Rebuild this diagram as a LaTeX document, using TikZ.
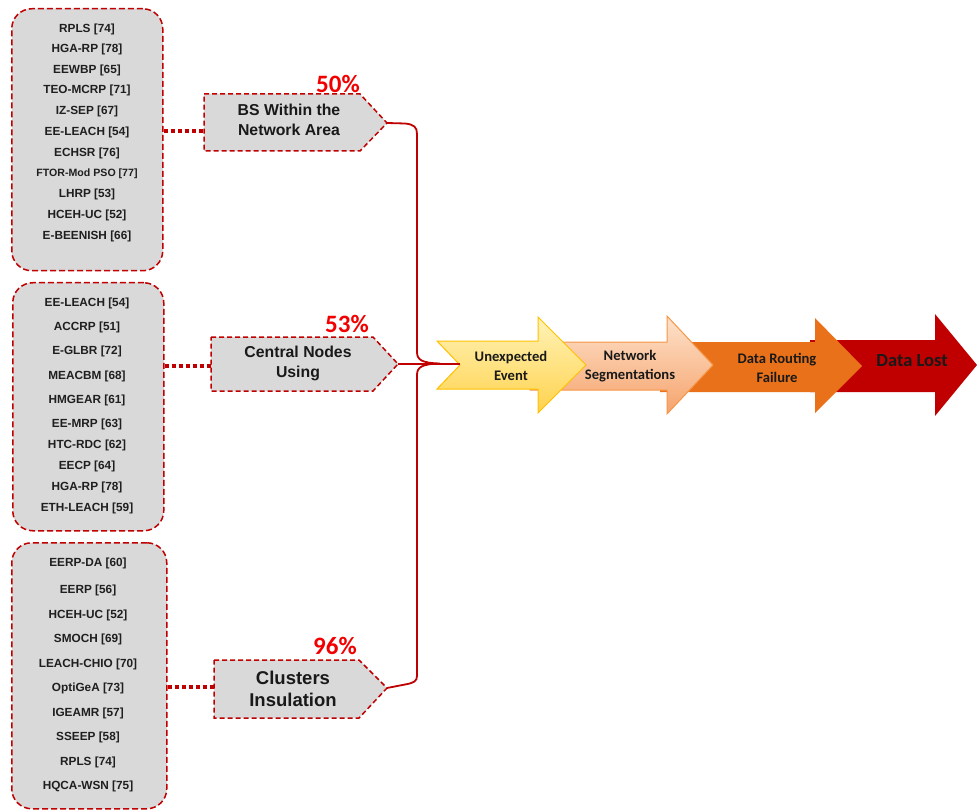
\documentclass[tikz,border=0pt]{standalone}
\usepackage{fontspec}
\setmainfont{Liberation Sans}
\newfontfamily\cbri{Carlito}
\definecolor{dred}{HTML}{C00000}
\definecolor{boxgray}{HTML}{D9D9D9}
\definecolor{pctred}{HTML}{F20000}
\definecolor{ytop}{HTML}{FFF3B8}
\definecolor{ybot}{HTML}{FFD24D}
\definecolor{yedge}{HTML}{FFC000}
\definecolor{ptop}{HTML}{FDE2CC}
\definecolor{pbot}{HTML}{F6A36B}
\definecolor{pedge}{HTML}{F79646}
\definecolor{orng}{HTML}{E97119}
\begin{document}
\begin{tikzpicture}[x=1pt,y=-1pt,
  listbox/.style={draw=dred, dash pattern=on 6pt off 3pt, line width=1.5pt,
    fill=boxgray, rounded corners=20pt},
  item/.style={font=\fontsize{11.8}{13}\selectfont\bfseries, text=black!88, inner sep=0pt},
  causebox/.style={draw=dred, dash pattern=on 5pt off 3pt, line width=1.5pt, fill=boxgray},
  causetext/.style={font=\fontsize{15.8}{20}\selectfont\bfseries, align=center, text=black!90, inner sep=0pt},
  pct/.style={font=\cbri\fontsize{25}{28}\selectfont\bfseries, text=pctred, inner sep=0pt},
  dotlink/.style={draw=dred, line width=3.5pt, dash pattern=on 4pt off 3pt},
  brace/.style={draw=dred, line width=1.8pt},
  steptext/.style={font=\cbri\fontsize{14.6}{19.5}\selectfont\bfseries, align=center, text=black!90, inner sep=0pt}
]
\useasboundingbox (0,0) rectangle (977,810);

% ---------- method lists ----------
\node[listbox, anchor=north west, minimum width=151pt, minimum height=262pt, inner sep=0pt] (L1) at (11,8) {};
\node[listbox, anchor=north west, minimum width=151pt, minimum height=248pt, inner sep=0pt] (L2) at (12,282) {};
\node[listbox, anchor=north west, minimum width=155pt, minimum height=266pt, inner sep=0pt] (L3) at (11,542) {};

\foreach \yy/\t in {29/RPLS [74], 49/HGA-RP [78], 70/EEWBP [65], 90/TEO-MCRP [71],
  111/IZ-SEP [67], 132/EE-LEACH [54], 153/ECHSR [76], 194/LHRP [53],
  215/HCEH-UC [52], 236/E-BEENISH [66]}
  \node[item] (a\yy) at (87,\yy) {\t};
\node[item, font=\fontsize{10.6}{12}\selectfont\bfseries] (a174) at (87,174) {FTOR-Mod PSO [77]};

\foreach \yy/\t in {303/EE-LEACH [54], 327/ACCRP [51], 351/E-GLBR [72], 376/MEACBM [68],
  400/HMGEAR [61], 424/EE-MRP [63], 445/HTC-RDC [62], 466/EECP [64],
  487/HGA-RP [78], 508/ETH-LEACH [59]}
  \node[item] (b\yy) at (87,\yy) {\t};

\foreach \yy/\t in {563/EERP-DA [60], 590/EERP [56], 615/HCEH-UC [52], 639/SMOCH [69],
  664/LEACH-CHIO [70], 688/OptiGeA [73], 713/IGEAMR [57], 737/SSEEP [58],
  762/RPLS [74], 786/HQCA-WSN [75]}
  \node[item] (c\yy) at (88,\yy) {\t};

% ---------- cause boxes ----------
\draw[causebox] (204,94) -- (360,94) -- (387,123) -- (360,151) -- (204,151) -- cycle;
\draw[causebox] (211,337) -- (373,337) -- (398,364) -- (373,391) -- (211,391) -- cycle;
\draw[causebox] (214,660) -- (359,660) -- (387,688) -- (359,718) -- (214,718) -- cycle;
\coordinate (t1) at (387,123);
\coordinate (t2) at (398,364);
\coordinate (t3) at (387,688);
\coordinate (w1) at (204,131);
\coordinate (w2) at (211,366);
\coordinate (w3) at (214,687);

\node[causetext] (c1) at (289,120) {BS Within the\\Network Area};
\node[causetext] (c2) at (298,363) {Central Nodes\\Using};
\node[causetext, font=\fontsize{18.5}{22}\selectfont\bfseries] (c3) at (293,689) {Clusters\\Insulation};

\node[pct] (p1) at (338,84) {50\%};
\node[pct] (p2) at (347,324) {53\%};
\node[pct] (p3) at (335,646) {96\%};

% dotted links from lists to causes
\draw[dotlink] (L1.east |- w1) -- (w1);
\draw[dotlink] (L2.east |- w2) -- (w2);
\draw[dotlink] (L3.east |- w3) -- (w3);

% ---------- consequence chain (drawn back to front) ----------
\path[fill=dred] (810,340) -- (935,340) -- (935,314) -- (977,365) -- (935,416) -- (935,392) -- (810,392) -- cycle;
\path[fill=orng] (660,342) -- (815,342) -- (815,318) -- (862,366) -- (815,413) -- (815,392) -- (660,392) -- cycle;
\path[draw=pedge, line width=1pt, top color=ptop, bottom color=pbot]
  (530,342) -- (667,342) -- (667,316) -- (713,365) -- (667,414) -- (667,390) -- (530,390) -- cycle;
\path[draw=yedge, line width=1pt, top color=ytop, bottom color=ybot]
  (437,341) -- (538,341) -- (538,317) -- (586,365) -- (538,413) -- (538,389) -- (437,389) -- (460,365) -- cycle;
\coordinate (notch) at (460,364);

\node[steptext] (s1) at (511,366) {Unexpected\\Event};
\node[steptext] (s2) at (630,366) {Network\\Segmentations};
\node[steptext] (s3) at (777,368) {Data Routing\\Failure};
\node[steptext, font=\cbri\fontsize{18.5}{20}\selectfont\bfseries] (s4) at (912,361) {Data Lost};

% ---------- brace gathering the causes ----------
\draw[brace] (t1) -- (405,123.5) .. controls (414,124.5) and (417,127) .. (417,134)
  -- (417,352) .. controls (417,360) and (422,363) .. (440,363.5)
  .. controls (422,364) and (417,367) .. (417,375)
  -- (417,676) .. controls (417,681) and (414,683) .. (405,684.5) -- (t3);
\draw[brace] (t2) -- (notch);
\end{tikzpicture}
\end{document}
